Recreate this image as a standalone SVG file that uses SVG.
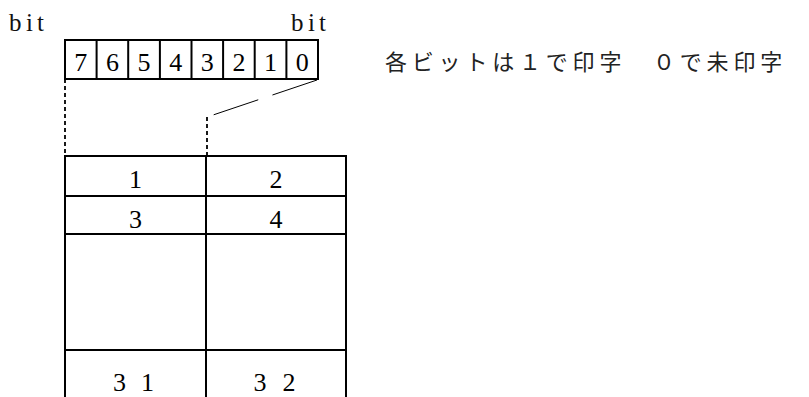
<svg xmlns="http://www.w3.org/2000/svg" width="809" height="397" viewBox="0 0 809 397">
<style>
.box{fill:#fff;stroke:#000;stroke-width:2}
.ln{stroke:#000;stroke-width:2;fill:none}
.dash{stroke:#000;stroke-width:1.8;stroke-dasharray:4 3;fill:none}
.diag{stroke:#000;stroke-width:1;stroke-dasharray:47 15;fill:none}
.bit{font-family:"Liberation Serif","DejaVu Serif",serif;font-size:25px;fill:#111}
.num{font-family:"Liberation Serif","DejaVu Serif",serif;font-size:26px;fill:#000;text-anchor:middle}
.jp{font-family:"Noto Sans CJK JP","Noto Sans",sans-serif;font-size:22px;fill:#222;letter-spacing:4.8px}
</style>
<rect width="809" height="397" fill="#fff"/>
<g id="label-bit-left"><text class="bit" x="9 26 37" y="31">bit</text></g>
<g id="label-bit-right"><text class="bit" x="291 308 319" y="31">bit</text></g>
<g id="bit-register">
<rect class="box" x="65" y="40" width="253" height="39"/>
<path class="ln" d="M96.6 40V79M128.2 40V79M159.9 40V79M191.5 40V79M223.1 40V79M254.7 40V79M286.4 40V79"/>
<text class="num" y="71" x="80.8 112.4 144 175.7 207.3 238.9 270.5 302.2">76543210</text>
</g>
<g id="note"><text class="jp" x="385" y="70">各ビットは１で印字　０で未印字</text></g>
<g id="connectors">
<path class="dash" d="M65 79V156"/>
<path class="dash" d="M207 117V156"/>
<path class="diag" d="M317 80L213 115"/>
</g>
<g id="table">
<path class="ln" d="M65 156V397M206 156V397M346 156V397M64 156H347M64 196H347M64 234H347M64 350H347"/>
<text class="num" x="135.5" y="188">1</text>
<text class="num" x="276" y="188">2</text>
<text class="num" x="135.5" y="228">3</text>
<text class="num" x="276" y="228">4</text>
<text class="num" x="119.5 133.5 147.5" y="391">3 1</text>
<text class="num" x="260 274 289" y="391">3 2</text>
</g>
</svg>
